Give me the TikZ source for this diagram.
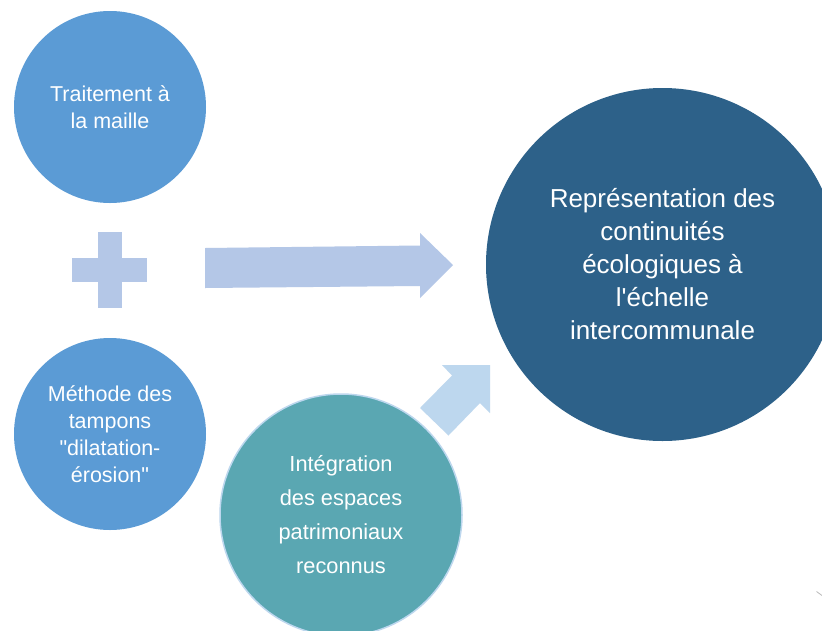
\documentclass[tikz,border=0pt]{standalone}
\usepackage{fontspec}
\setmainfont{Liberation Sans}[Ligatures=TeXOff]
\begin{document}
\begin{tikzpicture}[x=1pt,y=-1pt,
  bubble/.style={circle, inner sep=0pt, text=white, align=center},
  smallbubble/.style={bubble, fill=midblue, minimum size=192pt,
    font=\fontsize{21.5}{27}\selectfont},
  blockarrow/.style={fill=paleblue, draw=none},
]
\definecolor{midblue}{HTML}{5B9BD5}
\definecolor{deepblue}{HTML}{2D6189}
\definecolor{tealc}{HTML}{5AA7B2}
\definecolor{paleblue}{HTML}{B4C7E7}
\definecolor{lightblue}{HTML}{BDD7EE}
\useasboundingbox (0,0) rectangle (822,630);
\fill[white] (0,0) rectangle (822,630);

% the two input methods
\node[smallbubble] (maille) at (110,107) {Traitement à\\la maille};
\node[smallbubble] (tampons) at (110,434) {Méthode des\\tampons\\"dilatation-\\érosion"};

% plus sign between them
\fill[paleblue] (97.5,232) rectangle (121.5,308);
\fill[paleblue] (72,258) rectangle (147,282);

% main arrow towards the result
\fill[blockarrow] (205,248) -- (420,245.5) -- (420,233) -- (453,265)
  -- (420,298) -- (420,286) -- (205,288) -- cycle;

% result
\node[bubble, fill=deepblue, minimum size=353pt,
  font=\fontsize{26}{33}\selectfont] (result) at (662.5,264.5)
  {Représentation des\\continuités\\écologiques à\\l'échelle\\intercommunale};

% heritage areas and their diagonal arrow
\node[bubble, fill=tealc, draw=lightblue, line width=1.5pt, minimum size=242pt,
  font=\fontsize{21.8}{34}\selectfont] (patrimoine) at (341,515)
  {Intégration\\des espaces\\patrimoniaux\\reconnus};
\fill[lightblue] (420,408) -- (452,375.5) -- (442,365) -- (490,365)
  -- (490,413) -- (480,403) -- (448.5,435.5) -- cycle;

% small mark in the lower right corner
\draw[gray!55, line width=0.8pt] (816.5,591.5) -- (822,595.5);
\end{tikzpicture}
\end{document}
